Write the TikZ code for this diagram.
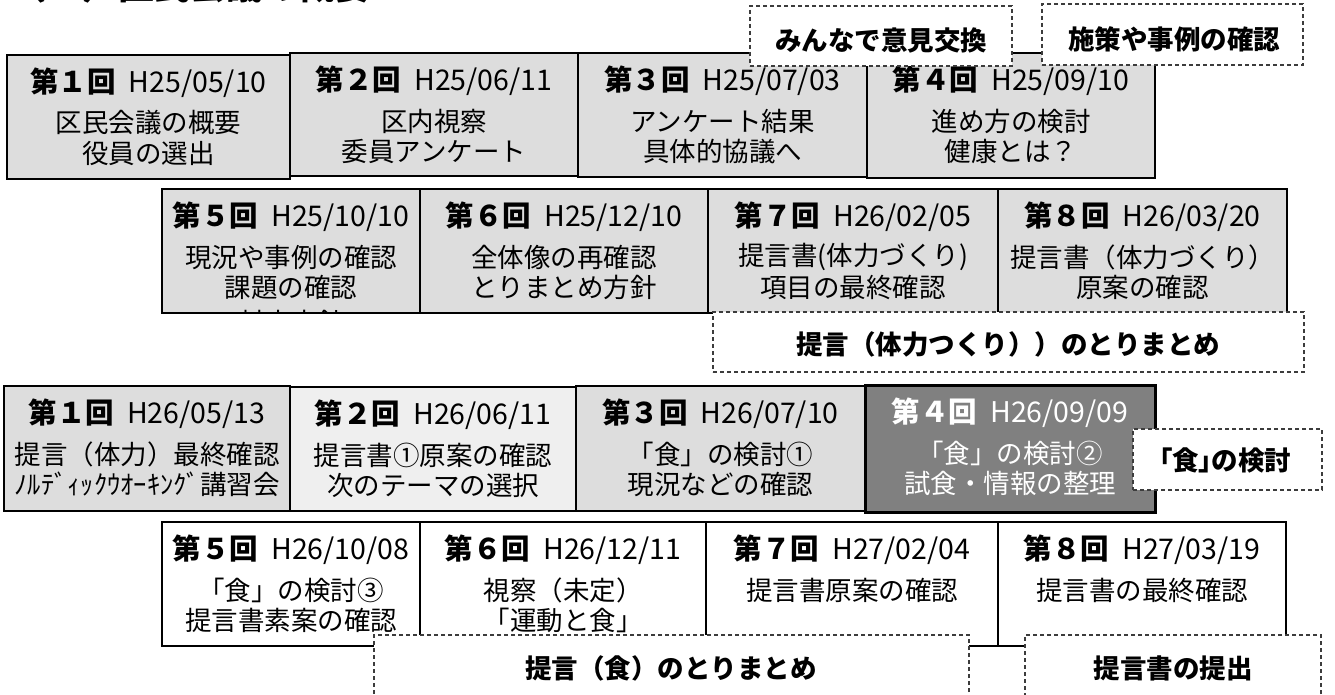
\documentclass[tikz,border=0pt]{standalone}
\usepackage{fontspec}
\setmainfont{Noto Sans CJK JP}
\newfontfamily\paltfont[RawFeature=+palt]{Noto Sans CJK JP}
\usetikzlibrary{calc}
\definecolor{boxgray}{RGB}{221,221,221}
\definecolor{boxlight}{RGB}{239,239,239}
\definecolor{boxdark}{RGB}{128,128,128}
\definecolor{dashgray}{RGB}{60,60,60}
\tikzset{
  mbox/.style={draw=black, line width=2pt, inner sep=0pt, outer sep=0pt, rectangle},
  dbox/.style={draw=dashgray, line width=1.1pt, dash pattern=on 4pt off 3pt, fill=white, inner sep=0pt, outer sep=0pt, rectangle},
  headtxt/.style={font=\fontsize{28.5}{30}\selectfont, inner sep=0pt},
  bodytxt/.style={font=\fontsize{26.5}{28}\selectfont, inner sep=0pt},
  labeltxt/.style={font=\fontsize{26.5}{28}\selectfont\bfseries, inner sep=0pt},
  lineA/.style={yshift=-68pt},
  lineB/.style={yshift=-98pt},
}
\newcommand{\mtg}[8]{%
  \node[mbox,#2,minimum width={(#5-#3)*1pt},minimum height={(#6-#4)*1pt}] (#1) at ({(#3+#5)/2},{(#4+#6)/2}) {};
  \node[headtxt,#2,draw=none,fill=none] (#1h) at ([yshift=-28pt]#1.north) {\textbf{#7}\hspace{13pt}#8};
}
\begin{document}
\begin{tikzpicture}[x=1pt,y=-1pt]
\fill[white] (0,0) rectangle (1335,695);
\useasboundingbox (0,0) rectangle (1335,695);
% cut-off title
\node[anchor=base west, inner sep=0pt, font=\fontsize{36}{36}\selectfont\bfseries] (title) at (10,0) {（２）区民会議の概要};
% ---------- row 1 ----------
\mtg{r1a}{fill=boxgray}{7}{55}{290}{179}{第１回}{H25/05/10}
\node[bodytxt,lineA] (r1a1) at (r1a.north) {区民会議の概要};
\node[bodytxt,lineB] (r1a2) at (r1a.north) {役員の選出};
\mtg{r1b}{fill=boxgray}{290}{53}{578}{176}{第２回}{H25/06/11}
\node[bodytxt,lineA] (r1b1) at (r1b.north) {区内視察};
\node[bodytxt,lineB] (r1b2) at (r1b.north) {委員アンケート};
\mtg{r1c}{fill=boxgray}{578}{53}{867}{177}{第３回}{H25/07/03}
\node[bodytxt,lineA] (r1c1) at (r1c.north) {アンケート結果};
\node[bodytxt,lineB] (r1c2) at (r1c.north) {具体的協議へ};
\mtg{r1d}{fill=boxgray}{867}{53}{1155}{178}{第４回}{H25/09/10}
\node[bodytxt,lineA] (r1d1) at (r1d.north) {進め方の検討};
\node[bodytxt,lineB] (r1d2) at (r1d.north) {健康とは？};
\node[dbox, minimum width=262pt, minimum height=60pt] (d1) at (881,36) {};
\node[labeltxt] (d1t) at (881,40) {みんなで意見交換};
\node[dbox, minimum width=261pt, minimum height=61pt] (d2) at (1172.5,34.5) {};
\node[labeltxt] (d2t) at (1174,39) {施策や事例の確認};
% ---------- row 2 ----------
\mtg{r2a}{fill=boxgray}{162}{189}{420}{313}{第５回}{H25/10/10}
\node[bodytxt,lineA] (r2a1) at (r2a.north) {現況や事例の確認};
\node[bodytxt,lineB] (r2a2) at (r2a.north) {課題の確認};
\begin{scope}
\clip (163,190) rectangle (419,312);
\node[bodytxt] (r2a3) at (291,322) {対応方針};
\end{scope}
\mtg{r2b}{fill=boxgray}{420}{189}{708}{313}{第６回}{H25/12/10}
\node[bodytxt,lineA] (r2b1) at (r2b.north) {全体像の再確認};
\node[bodytxt,lineB] (r2b2) at (r2b.north) {とりまとめ方針};
\mtg{r2c}{fill=boxgray}{708}{189}{998}{313}{第７回}{H26/02/05}
\node[bodytxt,lineA] (r2c1) at (r2c.north) {提言書(体力づくり)};
\node[bodytxt,lineB] (r2c2) at (r2c.north) {項目の最終確認};
\mtg{r2d}{fill=boxgray}{998}{189}{1287}{313}{第８回}{H26/03/20}
\node[bodytxt,lineA] (r2d1) at (r2d.north) {提言書（体力づくり）};
\node[bodytxt,lineB] (r2d2) at (r2d.north) {原案の確認};
\node[dbox, minimum width=591pt, minimum height=60pt] (d3) at (1008.5,342) {};
\node[labeltxt] (d3t) at (1008,344) {提言（体力つくり））のとりまとめ};
% ---------- row 3 ----------
\mtg{r3a}{fill=boxgray}{4}{386}{290}{511}{第１回}{H26/05/13}
\node[bodytxt,lineA] (r3a1) at (r3a.north) {提言（体力）最終確認};
\node[bodytxt,lineB] (r3a2) at (r3a.north) {ﾉﾙﾃﾞｨｯｸｳｵｰｷﾝｸﾞ講習会};
\mtg{r3b}{fill=boxlight,line width=1.2pt}{290}{387}{576}{511}{第２回}{H26/06/11}
\node[bodytxt,lineA] (r3b1) at (r3b.north) {提言書①原案の確認};
\node[bodytxt,lineB] (r3b2) at (r3b.north) {次のテーマの選択};
\mtg{r3c}{fill=boxgray}{576}{386}{865}{511}{第３回}{H26/07/10}
\node[bodytxt,lineA] (r3c1) at (r3c.north) {「食」の検討①};
\node[bodytxt,lineB] (r3c2) at (r3c.north) {現況などの確認};
\mtg{r3d}{fill=boxdark,line width=3pt,text=white}{865}{385}{1155}{512}{第４回}{H26/09/09}
\node[bodytxt,lineA,text=white] (r3d1) at (r3d.north) {「食」の検討②};
\node[bodytxt,lineB,text=white] (r3d2) at (r3d.north) {試食・情報の整理};
\node[dbox, minimum width=189pt, minimum height=61pt] (d4) at (1227.5,459.5) {};
\node[labeltxt] (d4t) at (1225,460) {\paltfont\bfseries 「食」の検討};
% ---------- row 4 ----------
\mtg{r4a}{fill=white}{162}{522}{420}{646}{第５回}{H26/10/08}
\node[bodytxt,lineA] (r4a1) at (r4a.north) {「食」の検討③};
\node[bodytxt,lineB] (r4a2) at (r4a.north) {提言書素案の確認};
\mtg{r4b}{fill=white}{420}{522}{706}{646}{第６回}{H26/12/11}
\node[bodytxt,lineA] (r4b1) at (r4b.north) {視察（未定）};
\node[bodytxt,lineB] (r4b2) at (r4b.north) {「運動と食」};
\mtg{r4c}{fill=white}{706}{522}{998}{646}{第７回}{H27/02/04}
\node[bodytxt,lineA] (r4c1) at (r4c.north) {提言書原案の確認};
\mtg{r4d}{fill=white}{998}{522}{1286}{646}{第８回}{H27/03/19}
\node[bodytxt,lineA] (r4d1) at (r4d.north) {提言書の最終確認};
\node[dbox, minimum width=595pt, minimum height=85pt] (d5) at (671.5,677.5) {};
\node[labeltxt] (d5t) at (671,668) {提言（食）のとりまとめ};
\node[dbox, minimum width=296pt, minimum height=85pt] (d6) at (1173,677.5) {};
\node[labeltxt] (d6t) at (1173,668) {提言書の提出};
\end{tikzpicture}
\end{document}
